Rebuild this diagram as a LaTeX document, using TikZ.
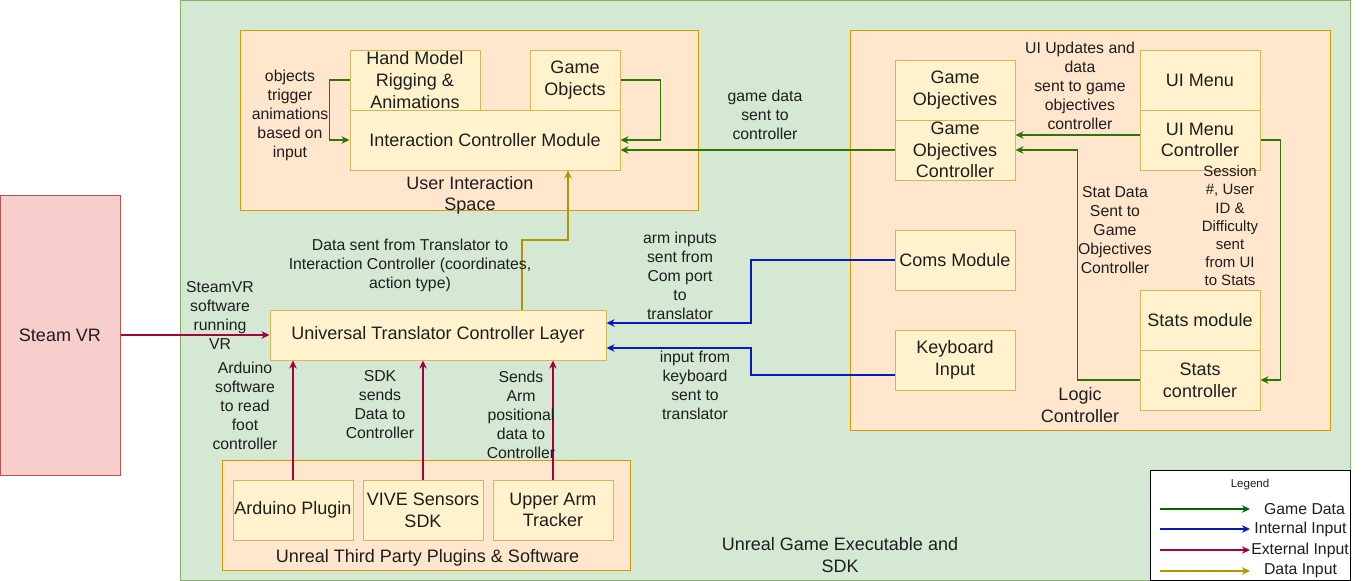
\documentclass[tikz,border=0pt]{standalone}
\usepackage{fontspec}
\setmainfont{Liberation Sans}
\usetikzlibrary{arrows.meta}
\definecolor{gfill}{HTML}{D5E8D4}
\definecolor{gbd}{HTML}{82B366}
\definecolor{ofill}{HTML}{FFE6CC}
\definecolor{obd}{HTML}{D79B00}
\definecolor{yfill}{HTML}{FFF2CC}
\definecolor{ybd}{HTML}{D6B656}
\definecolor{pfill}{HTML}{F8CECC}
\definecolor{pbd}{HTML}{B85450}
\definecolor{cgreen}{HTML}{2D7600}
\definecolor{clgreen}{HTML}{006600}
\definecolor{cblue}{HTML}{001DBC}
\definecolor{cred}{HTML}{A50040}
\definecolor{cgold}{HTML}{B09500}
\definecolor{txt}{HTML}{1E1E1E}
\newcommand{\fbig}{\fontsize{18}{21.6}\selectfont}
\newcommand{\fsml}{\fontsize{15.8}{19}\selectfont}
\newcommand{\fses}{\fontsize{15}{18.2}\selectfont}
\newcommand{\fleg}{\fontsize{11.5}{14}\selectfont}
\tikzset{
  cont/.style={draw=obd, fill=ofill, line width=1pt, inner sep=0pt},
  box/.style={draw=ybd, fill=yfill, line width=1pt, inner sep=0pt, align=center, font=\fbig, text=txt},
  lbl/.style={inner sep=0pt, align=center, font=\fsml, text=txt},
  blbl/.style={inner sep=0pt, align=center, font=\fbig, text=txt},
  tip/.style={-{Stealth[length=8pt,width=7.5pt,inset=2.5pt]}},
  garr/.style={tip, draw=cgreen, line width=1.1pt},
  barr/.style={tip, draw=cblue, line width=1.2pt},
  rarr/.style={tip, draw=cred, line width=1.2pt},
  yarr/.style={tip, draw=cgold, line width=1.1pt},
}
\begin{document}
\begin{tikzpicture}[x=1pt,y=-1pt]
\useasboundingbox (0,0) rectangle (1361,581);
% outer containers
\node[draw=gbd, fill=gfill, line width=1pt, minimum width=1170pt, minimum height=580pt, inner sep=0pt] (outer) at (765,290) {};
\node[draw=pbd, fill=pfill, line width=1pt, minimum width=120pt, minimum height=280pt, inner sep=0pt, font=\fbig, text=txt] (steam) at (60,335) {Steam VR};
\node[cont, minimum width=458pt, minimum height=180pt] (uis) at (469,120) {};
\node[cont, minimum width=480pt, minimum height=400pt] (logic) at (1090,230) {};
\node[cont, minimum width=408pt, minimum height=110pt] (third) at (426,515) {};
% boxes
\node[box, minimum width=130pt, minimum height=60pt] (hand) at (415,80) {Hand Model\\Rigging \&\\Animations};
\node[box, minimum width=90pt, minimum height=60pt] (gobj) at (575,80) {Game\\Objects};
\node[box, minimum width=270pt, minimum height=60pt] (icm) at (485,140) {Interaction Controller Module};
\node[box, minimum width=120pt, minimum height=60pt] (gobjv) at (955,90) {Game\\Objectives};
\node[box, minimum width=120pt, minimum height=60pt] (goc) at (955,150) {Game\\Objectives\\Controller};
\node[box, minimum width=120pt, minimum height=60pt] (uim) at (1200,80) {UI Menu};
\node[box, minimum width=120pt, minimum height=60pt] (uimc) at (1200,140) {UI Menu\\Controller};
\node[box, minimum width=120pt, minimum height=60pt] (coms) at (955,260) {Coms Module};
\node[box, minimum width=120pt, minimum height=60pt] (kbd) at (955,360) {Keyboard\\Input};
\node[box, minimum width=120pt, minimum height=60pt] (stm) at (1200,320) {Stats module};
\node[box, minimum width=120pt, minimum height=60pt] (stc) at (1200,380) {Stats\\controller};
\node[box, minimum width=336pt, minimum height=50pt] (trans) at (438,335) {Universal Translator Controller Layer};
\node[box, minimum width=120pt, minimum height=60pt] (ard) at (293,510) {Arduino Plugin};
\node[box, minimum width=120pt, minimum height=60pt] (vive) at (423,510) {VIVE Sensors\\SDK};
\node[box, minimum width=120pt, minimum height=60pt] (arm) at (553,510) {Upper Arm\\Tracker};
% container labels
\node[blbl] (luis) at (470,195.5) {User Interaction\\Space};
\node[blbl] (llogic) at (1080,405) {Logic\\Controller};
\node[blbl] (lthird) at (427.5,557.5) {Unreal Third Party Plugins \& Software};
\node[blbl] (louter) at (840,555) {Unreal Game Executable and\\SDK};
% connectors
\draw[rarr] (steam.east) -- (trans.west);
\draw[rarr] (ard.north) -- (ard.north |- trans.south);
\draw[rarr] (vive.north) -- (vive.north |- trans.south);
\draw[rarr] (arm.north) -- (arm.north |- trans.south);
\draw[yarr] ([xshift=84pt]trans.north) |- (568,240) -- ([xshift=83pt]icm.south);
\draw[barr] (coms.west) -- (751,260) |- ([yshift=12pt]trans.east);
\draw[barr] ([yshift=-15pt]kbd.west) -- (751,375) |- ([yshift=-13pt]trans.east);
\draw[garr] (goc.west) -- (goc.west -| icm.east);
\draw[garr] (gobj.east) -- ++(40,0) |- (icm.east);
\draw[garr] (hand.west) -- ++(-20,0) |- (icm.west);
\draw[garr] ([yshift=5pt]uimc.west) -- ([yshift=5pt]uimc.west -| goc.east);
\draw[garr] (stc.west) -- ++(-62,0) |- (goc.east);
\draw[garr] (uimc.east) -- ++(20,0) |- (stc.east);
% connector labels
\node[lbl] (l1) at (290,115.3) {objects\\trigger\\animations\\based on\\input};
\node[lbl] (l2) at (765,115) {game data\\sent to\\controller};
\node[lbl] (l3) at (1080,85.5) {UI Updates and\\data\\sent to game\\objectives\\controller};
\node[lbl] (l4) at (1115,230) {Stat Data\\Sent to\\Game\\Objectives\\Controller};
\node[lbl, font=\fses] (l5) at (1230,226) {Session\\\#, User\\ID \&\\Difficulty\\sent\\from UI\\to Stats};
\node[lbl] (l6) at (410,265) {Data sent from Translator to\\Interaction Controller (coordinates,\\action type)};
\node[lbl] (l7) at (220,315.5) {SteamVR\\software\\running\\VR};
\node[lbl] (l8) at (680,275.5) {arm inputs\\sent from\\Com port\\to\\translator};
\node[lbl] (l9) at (695,385.5) {input from\\keyboard\\sent to\\translator};
\node[lbl] (l10) at (245,405.7) {Arduino\\software\\to read\\foot\\controller};
\node[lbl] (l11) at (380,405) {SDK\\sends\\Data to\\Controller};
\node[lbl] (l12) at (521,415.3) {Sends\\Arm\\positional\\data to\\Controller};
% legend
\node[draw=black, fill=white, line width=1pt, minimum width=200pt, minimum height=110pt, inner sep=0pt] (legend) at (1250,525) {};
\node[inner sep=0pt, font=\fleg, text=txt] (legt) at (1250,485) {Legend};
\coordinate (g1) at (1160,509); \coordinate (g2) at (1250,509);
\coordinate (b1) at (1160,529); \coordinate (b2) at (1250,529);
\coordinate (r1) at (1160,550); \coordinate (r2) at (1250,550);
\coordinate (y1) at (1160,571); \coordinate (y2) at (1250,571);
\draw[tip, draw=clgreen, line width=1.1pt] (g1) -- (g2);
\draw[barr] (b1) -- (b2);
\draw[rarr] (r1) -- (r2);
\draw[yarr] (y1) -- (y2);
\node[lbl] (lg1) at (1304.5,509) {Game Data};
\node[lbl] (lg2) at (1300.5,529) {Internal Input};
\node[lbl] (lg3) at (1300,550) {External Input};
\node[lbl] (lg4) at (1300.5,571) {Data Input};
\end{tikzpicture}
\end{document}
